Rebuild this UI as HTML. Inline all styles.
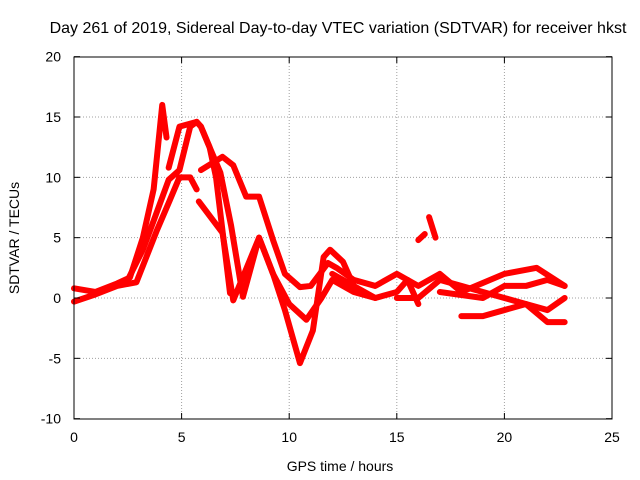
<!DOCTYPE html>
<html><head><meta charset="utf-8"><style>
body{margin:0;background:#fff}
svg{display:block;font-family:"Liberation Sans",sans-serif;font-size:14px}
</style></head><body>
<svg id="chart" width="640" height="480">
<text x="338" y="33" text-anchor="middle" style="font-size:16px">Day 261 of 2019, Sidereal Day-to-day VTEC variation (SDTVAR) for receiver hkst</text>
<g id="grid"></g>
<g id="series"></g>
<rect x="74" y="57" width="538" height="362" fill="none" stroke="#000"/>
<g id="axes"></g>
<text x="340" y="471" text-anchor="middle">GPS time / hours</text>
<text transform="translate(19,238) rotate(-90)" text-anchor="middle">SDTVAR / TECUs</text>
</svg>
<script>
const xTicks=[0,5,10,15,20,25];
const yTicks=[-10,-5,0,5,10,15,20];
const track1=[[0,0.8],[1,0.5],[2,1.2],[2.6,1.7],[3.2,5],[3.7,9],[4.1,16],[4.3,13.3]];
const track2=[[2.5,1.5],[3.2,4],[3.7,6.4],[4.4,9.8],[4.9,10.6],[5.4,14.2],[5.7,14.6],[5.9,14.2],[6.3,12.5],[6.6,10],[7.25,0.4]];
const track3=[[4.4,10.8],[4.9,14.2],[5.7,14.6],[5.9,14.2],[6.3,12.5],[6.8,10.4],[7.3,6],[7.85,0.1],[8.6,5],[9.25,2],[9.8,-1],[10.5,-5.4],[11.1,-2.7],[11.6,3.4],[11.9,4],[12.5,3],[13,1]];
const track4=[[0,-0.3],[1,0.3],[2,1],[2.9,1.3],[3.85,5.6],[4.45,8.1],[4.9,10],[5.4,10],[5.7,9]];
const track5=[[5.8,8],[6.9,5.4],[7.4,-0.2],[8.6,5],[9.25,2],[10,-0.5],[10.8,-1.8],[11.5,0],[12,1.5],[13,0.5],[14,0]];
const track6=[[5.9,10.6],[6.9,11.7],[7.4,11],[8.0,8.4],[8.6,8.4],[9.25,4.8],[9.8,2],[10.5,0.9],[11,1],[11.8,2.9],[12.2,2.5],[13,1.5],[14,1],[15,2],[16,1],[17,2],[18,0.5],[20,2],[21.5,2.5],[22.8,1]];
const track7=[[18,-1.5],[19,-1.5],[20,-1],[21,-0.5],[22,-2],[22.8,-2]];
const track8=[[17,0.5],[19,0],[20,1],[21,1],[22,1.5],[22.8,1]];
const track9=[[15,0],[16,0],[17,1.5],[18,1],[19,0.5],[20,0],[21,-0.5],[22,-1],[22.8,0]];
const track10=[[12,2],[13,1],[14,0],[15,0.5],[15.5,1.5],[16,-0.5]];
const blip1=[[16,4.8],[16.3,5.3]];
const blip2=[[16.5,6.7],[16.8,5]];
const allTracks=[track1,track2,track3,track4,track5,track6,track7,track8,track9,track10,blip1,blip2];
const X=v=>74+v*(538/25), Y=v=>298-v*(362/30);
const NS="http://www.w3.org/2000/svg";
const grid=document.getElementById('grid'),axes=document.getElementById('axes'),ser=document.getElementById('series');
function mk(t,a,p){const e=document.createElementNS(NS,t);for(const k in a)e.setAttribute(k,a[k]);p.appendChild(e);return e;}
xTicks.forEach(v=>{
 if(v>0&&v<25){const l=mk('line',{x1:X(v),x2:X(v),y1:57,y2:419,stroke:'#a0a0a0','stroke-dasharray':'1,2'},grid);
 }
 const t=mk('text',{x:X(v),y:442,'text-anchor':'middle'},axes);t.textContent=v;
 
 mk('line',{x1:X(v),x2:X(v),y1:419,y2:413,stroke:'#000'},axes);mk('line',{x1:X(v),x2:X(v),y1:57,y2:63,stroke:'#000'},axes);
});
yTicks.forEach(v=>{
 if(v>-10&&v<20){const l=mk('line',{x1:74,x2:612,y1:Y(v),y2:Y(v),stroke:'#a0a0a0','stroke-dasharray':'1,2'},grid);
 }
 const t=mk('text',{x:61,y:Y(v)+5,'text-anchor':'end'},axes);t.textContent=v;
 
 mk('line',{x1:74,x2:80,y1:Y(v),y2:Y(v),stroke:'#000'},axes);mk('line',{x1:606,x2:612,y1:Y(v),y2:Y(v),stroke:'#000'},axes);
});
allTracks.forEach(tr=>{
 const p=mk('polyline',{points:tr.map(d=>X(d[0])+','+Y(d[1])).join(' '),fill:'none',stroke:'#ff0000','stroke-width':6,'stroke-linejoin':'round','stroke-linecap':'round'},ser);
 
 
});
</script>
</body></html>
